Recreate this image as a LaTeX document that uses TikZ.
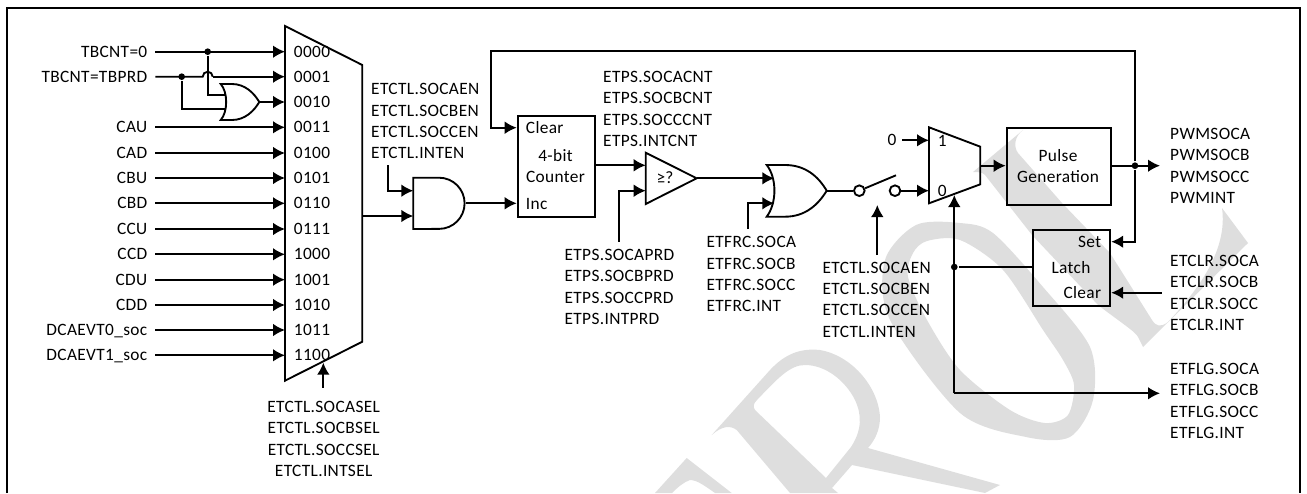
\documentclass[tikz,border=0pt]{standalone}
\usepackage{fontspec}
\setmainfont{Carlito}[LetterSpace=2]
\usetikzlibrary{arrows.meta}

\begin{document}
\begin{tikzpicture}[
  x=0.75pt, y=-0.75pt,
  line width=1.4pt,
  sig/.style={-{Latex[length=9pt,width=9.5pt]}, line width=1.4pt},
  wire/.style={line width=1.4pt},
  portlabel/.style={font=\fontsize{13}{16}\selectfont, text height=8.4pt, text depth=0pt, inner sep=0pt},
  srclabel/.style={portlabel, anchor=east, inner xsep=5.3pt},
  bitlabel/.style={portlabel, anchor=west, inner xsep=6pt},
  reglist/.style={font=\fontsize{13}{16}\selectfont, align=left, inner sep=0pt},
  block/.style={draw, anchor=north west, inner sep=0pt},
  dot/.style={circle, fill, inner sep=0pt, minimum size=5pt},
  swpin/.style={circle, draw, fill=white, inner sep=0pt, minimum size=8pt},
  wmark/.style={fill=black!13, even odd rule, draw=none}
]
\useasboundingbox (0,0) rectangle (1307,493);

% watermark
\path[wmark] (655,493) -- (686.7,458) -- (731.7,493) -- (715,493)
  .. controls (705,486) and (697,480) .. (690,480) .. controls (684,482) and (678,487) .. (672,493) -- cycle;
\path[wmark] (711.7,435) -- (770,370) .. controls (785,354) and (800,348) .. (820,350)
  .. controls (850,355) and (878,385) .. (880,417) .. controls (880,430) and (875,440) .. (868,448)
  -- (1000,485) -- (985,493) -- (852,465) -- (832,488) -- (838,493) -- (790,493) -- (736.7,430)
  .. controls (730,425) and (722,426) .. (711.7,435) -- cycle
  (755,410) -- (826,478) -- (851,447) .. controls (862,430) and (862,415) .. (855,400)
  .. controls (845,380) and (825,365) .. (805,365) .. controls (790,365) and (778,378) .. (757,400)
  .. controls (753,404) and (753,407) .. (755,410) -- cycle;
\path[wmark] plot[smooth cycle] coordinates {(916,225) (960,223) (993,233) (1043,287) (1090,347) (1093,400) (1070,437) (1026,437) (960,413) (890,320) (885,260)}
  plot[smooth cycle] coordinates {(927,241) (960,240) (1003,270) (1043,330) (1063,360) (1074,385) (1068,415) (1045,423) (1010,410) (960,370) (927,320) (908,277) (913,253)};
\path[wmark] (973,172) -- (1023,130) .. controls (1015,136) and (1013,146) .. (1018,153)
  -- (1062,203) -- (1110,253) -- (1152,320) .. controls (1156,326) and (1160,328) .. (1168,322)
  .. controls (1198,290) and (1228,250) .. (1222,208)
  -- (1248,243) -- (1143,347) -- (1138,337) .. controls (1136,332) and (1120,322) .. (1098,305)
  -- (1032,235) -- (985,175) .. controls (982,172) and (978,172) .. (973,172) -- cycle;

% frame, open at the bottom
\draw[line width=1.9pt] (7,493) -- (7,8) -- (1300,8) -- (1300,493);

% input mux
\draw (285,26) -- (362.3,65) -- (362.3,341.7) -- (285,380.7) -- cycle;
\node[srclabel] (tbz) at (155.3,51.7) {TBCNT=0};
\node[srclabel] (tbp) at (155.3,76.7) {TBCNT=TBPRD};
\node[srclabel] (cau) at (155.3,127.3) {CAU};
\node[srclabel] (cad) at (155.3,153) {CAD};
\node[srclabel] (cbu) at (155.3,178) {CBU};
\node[srclabel] (cbd) at (155.3,203.3) {CBD};
\node[srclabel] (ccu) at (155.3,229) {CCU};
\node[srclabel] (ccd) at (155.3,254.3) {CCD};
\node[srclabel] (cdu) at (155.3,279.7) {CDU};
\node[srclabel] (cdd) at (155.3,305) {CDD};
\node[srclabel] (dca0) at (155.3,330) {DCAEVT0\_soc};
\node[srclabel] (dca1) at (155.3,355.3) {DCAEVT1\_soc};
\node[bitlabel] (b0) at (285,51.7) {0000};
\node[bitlabel] (b1) at (285,76.7) {0001};
\node[bitlabel] (b2) at (285,102) {0010};
\node[bitlabel] (b3) at (285,127.3) {0011};
\node[bitlabel] (b4) at (285,153) {0100};
\node[bitlabel] (b5) at (285,178) {0101};
\node[bitlabel] (b6) at (285,203.3) {0110};
\node[bitlabel] (b7) at (285,229) {0111};
\node[bitlabel] (b8) at (285,254.3) {1000};
\node[bitlabel] (b9) at (285,279.7) {1001};
\node[bitlabel] (b10) at (285,305) {1010};
\node[bitlabel] (b11) at (285,330) {1011};
\node[bitlabel] (b12) at (285,355.3) {1100};

\draw[sig] (tbz) -- (b0);
\draw[sig] (cau) -- (b3);
\draw[sig] (cad) -- (b4);
\draw[sig] (cbu) -- (b5);
\draw[sig] (cbd) -- (b6);
\draw[sig] (ccu) -- (b7);
\draw[sig] (ccd) -- (b8);
\draw[sig] (cdu) -- (b9);
\draw[sig] (cdd) -- (b10);
\draw[sig] (dca0) -- (b11);
\draw[sig] (dca1) -- (b12);

% small or gate
\coordinate (orA) at (225,94.7);
\coordinate (orB) at (225,109.3);
\coordinate (orOut) at (259.3,102);
\draw (220.7,84) .. controls (228,92) and (228,112) .. (220.7,120) -- (232,120)
  .. controls (245,120) and (254,111) .. (259.3,102)
  .. controls (254,93) and (245,84) .. (232,84) -- cycle;
\node[dot] (jz) at (207.7,51.7) {};
\node[dot] (jp) at (181.7,76.7) {};
\coordinate (hopL) at (202.7,76.7);
\coordinate (hopR) at (212.7,76.7);
\draw[wire] (tbp) -- (hopL) arc[start angle=180, end angle=0, radius=3.75pt];
\draw[sig] (hopR) -- (b1);
\draw[wire] (jz) -- (jz |- orA) -- (orA);
\draw[wire] (jp) -- (jp |- orB) -- (orB);
\draw[sig] (orOut) -- (b2);

% mux select
\node[reglist, align=center] (sel) at (323.7,438.8) {ETCTL.SOCASEL\\ETCTL.SOCBSEL\\ETCTL.SOCCSEL\\ETCTL.INTSEL};
\coordinate (selTip) at (323.3,362.7);
\draw[sig] (323.3,387.7) -- (selTip);

% and gate
\draw (413.3,177.7) -- (439,177.7) arc[start angle=90, end angle=-90, radius=19.2pt] -- (413.3,229) -- cycle;
\coordinate (muxOut) at (362.3,216);
\coordinate (andA) at (413.3,190.7);
\coordinate (andB) at (413.3,216);
\coordinate (andOut) at (465.7,203.3);
\node[reglist, anchor=west] (en) at (370.3,121.3) {ETCTL.SOCAEN\\ETCTL.SOCBEN\\ETCTL.SOCCEN\\ETCTL.INTEN};
\draw[sig] (387.7,165) |- (andA);
\draw[sig] (muxOut) -- (andB);

% counter
\node[block, minimum width=58pt, minimum height=75.75pt] (counter) at (516.7,115) {};
\node[portlabel, anchor=west] (clr) at (525,127.7) {Clear};
\node[portlabel, anchor=west] (inc) at (525,204) {Inc};
\node[reglist, align=center] (cnt) at (555.5,166.2) {4-bit\\Counter};
\draw[sig] (andOut) -- (counter.west |- andOut);
\node[reglist, anchor=west] (cntsel) at (602.3,109) {ETPS.SOCACNT\\ETPS.SOCBCNT\\ETPS.SOCCCNT\\ETPS.INTCNT};

% comparator
\draw (645.7,152.7) -- (696.7,178.3) -- (645.7,204) -- cycle;
\node[portlabel] (ge) at (665,178.3) {≥?};
\coordinate (cmpA) at (645.7,165.3);
\coordinate (cmpB) at (645.7,190.7);
\coordinate (cmpOut) at (696.7,178.3);
\draw[sig] (counter.east |- cmpA) -- (cmpA);
\draw[sig] (619.3,241.7) |- (cmpB);
\node[reglist, anchor=west] (prd) at (563.7,287) {ETPS.SOCAPRD\\ETPS.SOCBPRD\\ETPS.SOCCPRD\\ETPS.INTPRD};

% second or gate
\draw (766.7,165) .. controls (777,178) and (777,203) .. (766.7,216.7) -- (785,216.7)
  .. controls (805,216.7) and (818,205) .. (826.7,190.7)
  .. controls (818,176) and (805,165) .. (785,165) -- cycle;
\coordinate (orC) at (774.3,178.3);
\coordinate (orD) at (774.3,203.3);
\coordinate (orEnd) at (826.7,190.7);
\draw[sig] (cmpOut) -- (orC);
\draw[sig] (748.3,229) |- (orD);
\node[reglist, anchor=west] (frc) at (705.7,274.2) {ETFRC.SOCA\\ETFRC.SOCB\\ETFRC.SOCC\\ETFRC.INT};

% switch
\node[swpin] (swA) at (859.3,190.7) {};
\node[swpin] (swB) at (895,190.7) {};
\coordinate (swEnd) at (896,175.3);
\draw[wire] (orEnd) -- (swA);
\draw[wire] (swA) -- (swEnd);
\node[reglist, anchor=west] (swen) at (821.7,299.5) {ETCTL.SOCAEN\\ETCTL.SOCBEN\\ETCTL.SOCCEN\\ETCTL.INTEN};
\draw[sig] (877.3,255) -- (877.3,205);

% output mux
\draw (929,127.3) -- (980.3,146.7) -- (980.3,184.3) -- (929,203.3) -- cycle;
\node[portlabel, anchor=west] (one) at (937,140.5) {1};
\node[portlabel, anchor=west] (zero) at (937,191) {0};
\node[portlabel] (zin) at (892,140.3) {0};
\draw[sig] (902.3,140.3) -- (929,140.3);
\draw[sig] (swB) -- (929,190.7);
\coordinate (mux2Out) at (980.3,165.7);

% pulse generation
\node[block, minimum width=78pt, minimum height=57.3pt] (pulse) at (1005.7,127.3) {};
\node[reglist, align=center] (pulsetxt) at (1058,166.2) {Pulse\\Generation};
\draw[sig] (mux2Out) -- (pulse.west |- mux2Out);
\node[dot] (jout) at (1135,165.7) {};
\coordinate (outTip) at (1160,165.7);
\draw[sig] (pulse.east |- jout) -- (outTip);
\node[reglist, anchor=west] (pwm) at (1169.3,166) {PWMSOCA\\PWMSOCB\\PWMSOCC\\PWMINT};

% latch
\node[block, minimum width=58pt, minimum height=57.3pt] (latch) at (1032,228.7) {};
\node[portlabel, anchor=east] (settxt) at (1102,241.7) {Set};
\node[portlabel] (latchtxt) at (1071,267.7) {Latch};
\node[portlabel, anchor=east] (clrtxt) at (1102,292.7) {Clear};
\coordinate (clrTail) at (1161.7,292.7);
\draw[sig] (clrTail) -- (latch.east |- clrTail);
\node[reglist, anchor=west] (etclr) at (1169.3,292.8) {ETCLR.SOCA\\ETCLR.SOCB\\ETCLR.SOCC\\ETCLR.INT};

% feedback
\coordinate (fbTop) at (1135,51.3);
\coordinate (fbLeft) at (491,51.3);
\draw[sig] (jout) -- (fbTop) -- (fbLeft) |- (counter.west |- clr);
\draw[sig] (jout) |- (latch.east |- settxt);

% flag path
\node[dot] (jfl) at (954.3,267) {};
\coordinate (flCorner) at (954.3,393.3);
\coordinate (flTip) at (1160,393.3);
\coordinate (mux2Sel) at (954.3,195);
\draw[wire] (latch.west |- jfl) -- (jfl);
\draw[sig] (flCorner) -- (mux2Sel);
\draw[sig] (flCorner) -- (flTip);
\node[reglist, anchor=west] (etflg) at (1169.3,400.8) {ETFLG.SOCA\\ETFLG.SOCB\\ETFLG.SOCC\\ETFLG.INT};
\end{tikzpicture}
\end{document}
